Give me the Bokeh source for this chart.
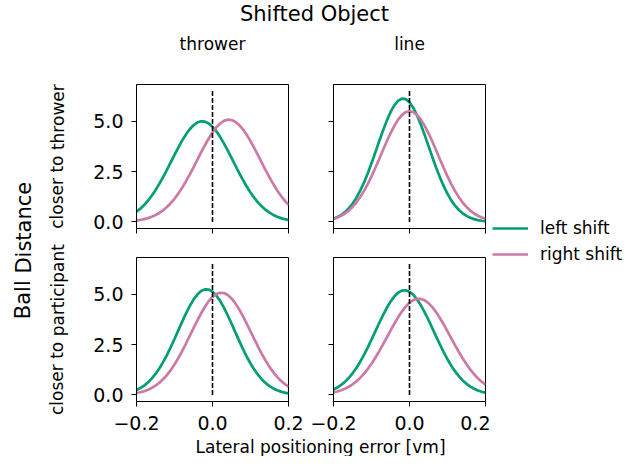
from bokeh.plotting import figure
from bokeh.models import (Range1d, FixedTicker, Label, Legend, LegendItem,
                          CustomJSTickFormatter)
from bokeh.layouts import row, column
from bokeh.embed import file_html
from bokeh.resources import INLINE

# ---------------- data ----------------
x_grid = [-0.20, -0.19, -0.18, -0.17, -0.16, -0.15, -0.14, -0.13, -0.12, -0.11,
          -0.10, -0.09, -0.08, -0.07, -0.06, -0.05, -0.04, -0.03, -0.02, -0.01,
          0.00, 0.01, 0.02, 0.03, 0.04, 0.05, 0.06, 0.07, 0.08, 0.09,
          0.10, 0.11, 0.12, 0.13, 0.14, 0.15, 0.16, 0.17, 0.18, 0.19, 0.20]

thrower_closer_thrower_left = [
    0.511, 0.660, 0.840, 1.053, 1.299, 1.579, 1.890, 2.228, 2.587, 2.958,
    3.332, 3.695, 4.037, 4.343, 4.602, 4.802, 4.936, 4.997, 4.981, 4.891,
    4.730, 4.504, 4.225, 3.903, 3.552, 3.182, 2.808, 2.441, 2.089, 1.762,
    1.463, 1.196, 0.963, 0.764, 0.597, 0.459, 0.348, 0.260, 0.191, 0.138, 0.098]
thrower_closer_thrower_right = [
    0.070, 0.099, 0.138, 0.189, 0.255, 0.340, 0.447, 0.579, 0.739, 0.929,
    1.152, 1.407, 1.695, 2.011, 2.352, 2.712, 3.081, 3.450, 3.809, 4.143,
    4.442, 4.694, 4.888, 5.018, 5.077, 5.062, 4.974, 4.818, 4.599, 4.328,
    4.013, 3.667, 3.304, 2.933, 2.566, 2.213, 1.881, 1.576, 1.301, 1.059, 0.848]
line_closer_thrower_left = [
    0.164, 0.241, 0.346, 0.488, 0.672, 0.905, 1.194, 1.541, 1.947, 2.406,
    2.910, 3.445, 3.992, 4.525, 5.019, 5.449, 5.789, 6.019, 6.124, 6.098,
    5.941, 5.665, 5.286, 4.827, 4.314, 3.773, 3.229, 2.704, 2.217, 1.778,
    1.395, 1.072, 0.806, 0.593, 0.427, 0.300, 0.207, 0.140, 0.092, 0.060, 0.038]
line_closer_thrower_right = [
    0.157, 0.222, 0.309, 0.421, 0.565, 0.744, 0.964, 1.224, 1.529, 1.876,
    2.261, 2.677, 3.114, 3.558, 3.994, 4.404, 4.771, 5.077, 5.308, 5.452,
    5.500, 5.452, 5.308, 5.077, 4.771, 4.404, 3.994, 3.558, 3.114, 2.677,
    2.261, 1.876, 1.529, 1.224, 0.964, 0.744, 0.565, 0.421, 0.309, 0.222, 0.157]
thrower_closer_participant_left = [
    0.249, 0.343, 0.465, 0.620, 0.811, 1.042, 1.314, 1.628, 1.981, 2.368,
    2.780, 3.206, 3.630, 4.037, 4.410, 4.731, 4.984, 5.158, 5.243, 5.233,
    5.130, 4.940, 4.671, 4.339, 3.958, 3.546, 3.120, 2.696, 2.289, 1.908,
    1.562, 1.256, 0.992, 0.770, 0.586, 0.438, 0.322, 0.232, 0.165, 0.115, 0.078]
thrower_closer_participant_right = [
    0.095, 0.134, 0.187, 0.257, 0.347, 0.462, 0.604, 0.779, 0.987, 1.231,
    1.512, 1.826, 2.171, 2.541, 2.926, 3.315, 3.696, 4.056, 4.380, 4.656,
    4.869, 5.012, 5.076, 5.060, 4.964, 4.792, 4.552, 4.256, 3.916, 3.545,
    3.159, 2.770, 2.391, 2.030, 1.697, 1.395, 1.129, 0.900, 0.705, 0.544, 0.413]
line_closer_participant_left = [
    0.272, 0.370, 0.495, 0.650, 0.841, 1.068, 1.335, 1.640, 1.980, 2.352,
    2.747, 3.154, 3.561, 3.954, 4.316, 4.633, 4.890, 5.075, 5.179, 5.196,
    5.127, 4.973, 4.744, 4.449, 4.103, 3.721, 3.318, 2.909, 2.507, 2.125,
    1.772, 1.452, 1.170, 0.927, 0.722, 0.553, 0.417, 0.309, 0.225, 0.161, 0.113]
line_closer_participant_right = [
    0.123, 0.170, 0.230, 0.307, 0.404, 0.524, 0.671, 0.846, 1.050, 1.286,
    1.552, 1.846, 2.164, 2.500, 2.847, 3.195, 3.534, 3.853, 4.140, 4.384,
    4.576, 4.708, 4.773, 4.770, 4.697, 4.560, 4.362, 4.113, 3.823, 3.501,
    3.161, 2.812, 2.466, 2.131, 1.815, 1.524, 1.261, 1.028, 0.826, 0.655, 0.511]

shifted_objects = ["thrower", "line"]
ball_distances = ["closer to thrower", "closer to participant"]
shift_labels = ["left shift", "right shift"]

x_ticks = [-0.2, 0.0, 0.2]
x_tick_labels = ["\u22120.2", "0.0", "0.2"]
y_ticks = [0.0, 2.5, 5.0]
y_tick_labels = ["0.0", "2.5", "5.0"]

ref_line_x = [0.0, 0.0]
ref_line_y = [0.0, 6.5]

x_limits = (-0.2, 0.2)
y_limits = (-0.325, 6.825)

title_text = "Shifted Object"
row_title_text = "Ball Distance"
x_label_text = "Lateral positioning error [vm]"

# ---------------- style ----------------
FONT = "DejaVu Sans"
GREEN = "#009E73"
PINK = "#CC79A7"
INK = "black"
FW, FH = 152, 144
NAN = float("nan")


def fmt(values, labels):
    return CustomJSTickFormatter(args=dict(tick_values=values, tick_labels=labels), code="""
        const i = tick_values.findIndex(t => Math.abs(t - tick) < 1e-9);
        return i >= 0 ? tick_labels[i] : tick.toFixed(1);
    """)


def blank(w, h):
    f = figure(width=w, height=h, x_range=Range1d(0, w), y_range=Range1d(0, h),
               x_axis_location=None, y_axis_location=None, title=None,
               toolbar_location=None, output_backend="svg", min_border=0)
    f.outline_line_color = None
    f.grid.visible = False
    return f


def text(f, x, y, s, size, angle=0.0, baseline="middle"):
    f.add_layout(Label(x=x, y=y, text=s, angle=angle, text_align="center",
                       text_baseline=baseline, text_font=FONT,
                       text_font_size=size, text_color=INK))


def panel(ci, ri, left_vals, right_vals):
    bl = 64 if ci == 0 else 25
    br = 20 if ci == 0 else 5
    bt = 27 if ri == 0 else 15
    bb = 14 if ri == 0 else 35
    p = figure(width=bl + FW + br, height=bt + FH + bb,
               x_range=Range1d(*x_limits), y_range=Range1d(*y_limits),
               title=None, toolbar_location=None, output_backend="svg",
               min_border_left=bl, min_border_right=br,
               min_border_top=bt, min_border_bottom=bb)
    p.grid.visible = False
    p.outline_line_color = INK
    p.outline_line_width = 1
    p.outline_line_alpha = 1.0

    xa = p.xaxis[0]
    ya = p.yaxis[0]
    xa.ticker = FixedTicker(ticks=x_ticks)
    ya.ticker = FixedTicker(ticks=y_ticks)
    xa.formatter = fmt(x_ticks, x_tick_labels)
    ya.formatter = fmt(y_ticks, y_tick_labels)
    for ax in (xa, ya):
        ax.minor_tick_line_color = None
        ax.major_tick_in = 0
        ax.major_tick_out = 5
        ax.major_tick_line_width = 1
        ax.major_tick_line_color = INK
        ax.axis_line_color = INK
        ax.axis_line_width = 1
        ax.major_label_text_font = FONT
        ax.major_label_text_font_size = "19px"
        ax.major_label_text_color = INK
    xa.major_label_standoff = 9
    ya.major_label_standoff = 8
    if ri == 0:
        xa.major_label_text_font_size = "0px"
        xa.major_label_text_color = None
        xa.major_label_standoff = 0
    if ci == 1:
        ya.major_label_text_font_size = "0px"
        ya.major_label_text_color = None
        ya.major_label_standoff = 0

    p.line(x_grid, left_vals, line_color=GREEN, line_width=2.7)
    p.line(x_grid, right_vals, line_color=PINK, line_width=2.7)
    p.line(ref_line_x, ref_line_y, line_color=INK, line_width=1.6, line_dash="5 2")
    return p


tl = panel(0, 0, thrower_closer_thrower_left, thrower_closer_thrower_right)
tr = panel(1, 0, line_closer_thrower_left, line_closer_thrower_right)
bl_ = panel(0, 1, thrower_closer_participant_left, thrower_closer_participant_right)
br_ = panel(1, 1, line_closer_participant_left, line_closer_participant_right)

# header with super-title and column titles (coordinates = pixels)
HEAD_H = 57
header = blank(624, HEAD_H)
text(header, 314, HEAD_H - 13, title_text, "21px")
text(header, 212, HEAD_H - 43, shifted_objects[0], "17px")
text(header, 409, HEAD_H - 43, shifted_objects[1], "17px")

# left strip with row titles
ROW_H = 379
left = blank(72, ROW_H)
text(left, 23, 186, row_title_text, "21px", angle=1.5707963)
text(left, 57, 280, ball_distances[0], "17px", angle=1.5707963)
text(left, 57, 107, ball_distances[1], "17px", angle=1.5707963)

# legend strip (proxy renderers carry only the style)
legf = blank(134, ROW_H)
r_l = legf.line(x=[NAN], y=[NAN], line_color=GREEN, line_width=2.7)
r_r = legf.line(x=[NAN], y=[NAN], line_color=PINK, line_width=2.7)
legend = Legend(items=[LegendItem(label=shift_labels[0], renderers=[r_l]),
                       LegendItem(label=shift_labels[1], renderers=[r_r])],
                location=(2, 172), padding=0, spacing=6, margin=0,
                glyph_width=36, glyph_height=20, label_height=20,
                label_standoff=12, label_text_font=FONT,
                label_text_font_size="17px", label_text_color=INK,
                border_line_color=None, background_fill_color=None)
legf.add_layout(legend)

# footer with x label
FOOT_H = 20
footer = blank(624, FOOT_H)
text(footer, 320, 10, x_label_text, "17px")

layout = column(header,
                row(left, column(tl, bl_), column(tr, br_), legf),
                footer)

open("out.html", "w").write(file_html(layout, INLINE))
